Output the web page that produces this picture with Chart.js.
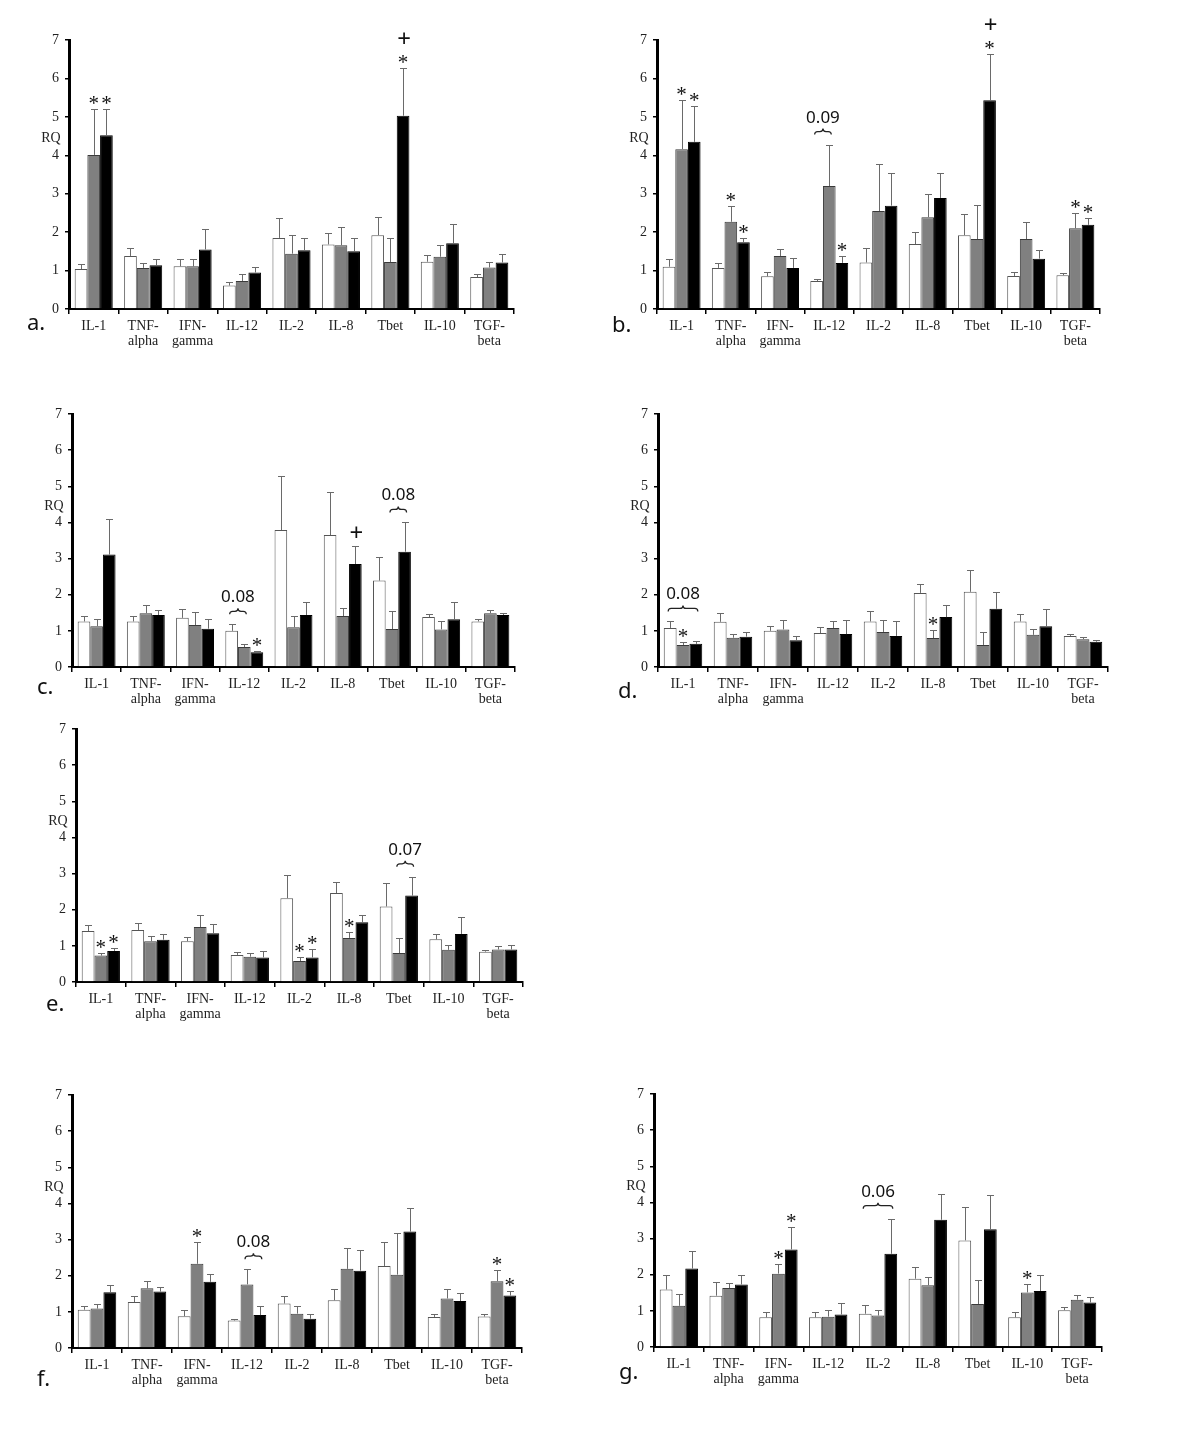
<!DOCTYPE html>
<html>
<head>
<meta charset="utf-8">
<script src="https://cdn.jsdelivr.net/npm/chart.js@4.4.0/dist/chart.umd.min.js"></script>
<style>
  body { margin: 0; background: #fff; width: 1200px; height: 1436px; position: relative; overflow: hidden; }
  canvas { position: absolute; }
  .tag { position: absolute; font-family: "Noto Sans", sans-serif; font-size: 22px; line-height: 20px; color: #111; }
</style>
</head>
<body>
<script>
// categories (x axis)
const cats = [["IL-1"], ["TNF-", "alpha"], ["IFN-", "gamma"], ["IL-12"], ["IL-2"], ["IL-8"], ["Tbet"], ["IL-10"], ["TGF-", "beta"]];

// panel a
const aWhite   = [1.04, 1.38, 1.11, 0.61, 1.85, 1.68, 1.92, 1.23, 0.83];
const aWhiteHi = [1.17, 1.59, 1.30, 0.69, 2.38, 1.99, 2.40, 1.40, 0.91];
const aGray    = [4.01, 1.07, 1.11, 0.73, 1.44, 1.66, 1.22, 1.36, 1.08];
const aGrayHi  = [5.20, 1.20, 1.30, 0.91, 1.92, 2.13, 1.85, 1.66, 1.23];
const aBlack   = [4.52, 1.14, 1.55, 0.95, 1.53, 1.50, 5.03, 1.71, 1.21];
const aBlackHi = [5.20, 1.30, 2.08, 1.09, 1.85, 1.85, 6.27, 2.21, 1.43];
const aMarks   = [[0, 1, "*"], [0, 2, "*"], [6, 2, "*"], [6, 2, "+"]];
const aBraces  = [];

// panel b
const bWhite   = [1.10, 1.07, 0.85, 0.73, 1.21, 1.69, 1.92, 0.86, 0.88];
const bWhiteHi = [1.30, 1.20, 0.95, 0.78, 1.60, 2.00, 2.46, 0.95, 0.93];
const bGray    = [4.16, 2.27, 1.38, 3.20, 2.55, 2.39, 1.82, 1.82, 2.10];
const bGrayHi  = [5.43, 2.67, 1.56, 4.28, 3.78, 3.00, 2.70, 2.27, 2.49];
const bBlack   = [4.35, 1.74, 1.07, 1.20, 2.69, 2.89, 5.43, 1.31, 2.19];
const bBlackHi = [5.29, 1.84, 1.33, 1.37, 3.54, 3.55, 6.63, 1.53, 2.36];
const bMarks   = [[0, 1, "*"], [0, 2, "*"], [1, 1, "*"], [1, 2, "*"], [3, 2, "*"], [6, 2, "*"], [6, 2, "+"], [8, 1, "*"], [8, 2, "*"]];
const bBraces  = [[3, 0, 1, "0.09"]];

// panel c
const cWhite   = [1.26, 1.26, 1.36, 1.00, 3.79, 3.65, 2.39, 1.38, 1.26];
const cWhiteHi = [1.42, 1.42, 1.60, 1.18, 5.29, 4.84, 3.03, 1.47, 1.33];
const cGray    = [1.13, 1.49, 1.16, 0.55, 1.10, 1.41, 1.05, 1.04, 1.49];
const cGrayHi  = [1.34, 1.71, 1.53, 0.64, 1.40, 1.62, 1.55, 1.28, 1.58];
const cBlack   = [3.11, 1.44, 1.06, 0.41, 1.44, 2.85, 3.19, 1.32, 1.44];
const cBlackHi = [4.10, 1.58, 1.34, 0.45, 1.79, 3.35, 4.00, 1.79, 1.49];
const cMarks   = [[3, 2, "*"], [5, 2, "+"]];
const cBraces  = [[3, 0, 1, "0.08"], [6, 1, 2, "0.08"]];

// panel d
const dWhite   = [1.08, 1.25, 1.00, 0.94, 1.26, 2.05, 2.08, 1.26, 0.86];
const dWhiteHi = [1.26, 1.49, 1.13, 1.11, 1.55, 2.29, 2.68, 1.47, 0.90];
const dGray    = [0.61, 0.81, 1.04, 1.08, 0.97, 0.80, 0.61, 0.89, 0.77];
const dGrayHi  = [0.69, 0.91, 1.30, 1.26, 1.30, 1.02, 0.97, 1.04, 0.83];
const dBlack   = [0.64, 0.84, 0.74, 0.91, 0.86, 1.38, 1.61, 1.13, 0.70];
const dBlackHi = [0.72, 0.96, 0.86, 1.30, 1.26, 1.72, 2.08, 1.61, 0.74];
const dMarks   = [[0, 1, "*"], [5, 1, "*"]];
const dBraces  = [[0, 0, 2, "0.08"]];

// panel e
const eWhite   = [1.41, 1.44, 1.13, 0.75, 2.32, 2.46, 2.09, 1.18, 0.84];
const eWhiteHi = [1.57, 1.62, 1.24, 0.83, 2.95, 2.77, 2.73, 1.33, 0.89];
const eGray    = [0.73, 1.13, 1.52, 0.70, 0.58, 1.22, 0.80, 0.89, 0.90];
const eGrayHi  = [0.79, 1.27, 1.85, 0.81, 0.69, 1.38, 1.22, 1.02, 1.00];
const eBlack   = [0.86, 1.17, 1.35, 0.68, 0.68, 1.65, 2.39, 1.33, 0.90];
const eBlackHi = [0.93, 1.34, 1.60, 0.86, 0.90, 1.86, 2.91, 1.80, 1.02];
const eMarks   = [[0, 1, "*"], [0, 2, "*"], [4, 1, "*"], [4, 2, "*"], [5, 1, "*"]];
const eBraces  = [[6, 1, 2, "0.07"]];

// panel f
const fWhite   = [1.06, 1.27, 0.88, 0.76, 1.23, 1.32, 2.27, 0.86, 0.87];
const fWhiteHi = [1.16, 1.45, 1.05, 0.79, 1.45, 1.63, 2.92, 0.93, 0.94];
const fGray    = [1.09, 1.65, 2.33, 1.76, 0.95, 2.19, 2.03, 1.37, 1.85];
const fGrayHi  = [1.21, 1.85, 2.93, 2.18, 1.16, 2.77, 3.18, 1.62, 2.15];
const fBlack   = [1.54, 1.56, 1.83, 0.91, 0.81, 2.14, 3.22, 1.30, 1.45];
const fBlackHi = [1.75, 1.68, 2.04, 1.15, 0.94, 2.70, 3.87, 1.51, 1.57];
const fMarks   = [[2, 1, "*"], [8, 1, "*"], [8, 2, "*"]];
const fBraces  = [[3, 1, 2, "0.08"]];

// panel g
const gWhite   = [1.59, 1.42, 0.82, 0.82, 0.92, 1.89, 2.95, 0.82, 1.02];
const gWhiteHi = [1.98, 1.79, 0.98, 0.98, 1.16, 2.22, 3.88, 0.98, 1.12];
const gGray    = [1.14, 1.63, 2.03, 0.84, 0.87, 1.71, 1.19, 1.51, 1.31];
const gGrayHi  = [1.47, 1.78, 2.30, 1.02, 1.01, 1.94, 1.85, 1.73, 1.45];
const gBlack   = [2.17, 1.73, 2.70, 0.90, 2.58, 3.52, 3.26, 1.55, 1.23];
const gBlackHi = [2.66, 2.00, 3.31, 1.23, 3.55, 4.22, 4.20, 2.00, 1.37];
const gMarks   = [[2, 1, "*"], [2, 2, "*"], [7, 1, "*"]];
const gBraces  = [[4, 0, 2, "0.06"]];

const serif = "'Liberation Serif', 'Times New Roman', serif";
const sans = "'Noto Sans', 'Open Sans', sans-serif";

// error bars, stars/plus, p-value braces and the RQ label
function decor(hiSets, marks, braces) {
    return {
        id: "decor",
        afterDatasetsDraw(chart) {
            const ctx = chart.ctx;
            const y = chart.scales.y;
            const area = chart.chartArea;
            const bar = (s, i) => chart.getDatasetMeta(s).data[i];
            const top = (s, i) => y.getPixelForValue(hiSets[s][i]);

            ctx.save();
            // error bars (upper only)
            ctx.strokeStyle = "#6a6a6a";
            ctx.lineWidth = 1;
            hiSets.forEach((arr, s) => {
                arr.forEach((v, i) => {
                    const b = bar(s, i);
                    const x = Math.round(b.x) + 0.5;
                    const yt = Math.round(top(s, i)) + 0.5;
                    ctx.beginPath();
                    ctx.moveTo(x, b.y);
                    ctx.lineTo(x, yt);
                    ctx.moveTo(x - 3.5, yt);
                    ctx.lineTo(x + 3.5, yt);
                    ctx.stroke();
                });
            });

            // significance marks
            ctx.fillStyle = "#111";
            ctx.textAlign = "center";
            ctx.textBaseline = "alphabetic";
            const seen = {};
            marks.forEach(([i, s, t]) => {
                const key = i + "-" + s;
                const n = seen[key] || 0;
                seen[key] = n + 1;
                const x = bar(s, i).x;
                const yt = top(s, i);
                if (t === "*") {
                    ctx.font = "21px " + serif;
                    ctx.fillText("*", x, yt + 1 - n * 17);
                } else {
                    ctx.font = "24px " + sans;
                    ctx.fillText("+", x + 1, yt - 5 - n * 16);
                }
            });

            // p-value braces
            ctx.strokeStyle = "#222";
            ctx.lineWidth = 1.2;
            braces.forEach(([i, s1, s2, txt]) => {
                let yb = Infinity;
                for (let s = s1; s <= s2; s++) yb = Math.min(yb, top(s, i));
                yb -= 13;
                const x1 = bar(s1, i).x - 2, x2 = bar(s2, i).x + 2;
                const xm = (x1 + x2) / 2;
                ctx.beginPath();
                ctx.moveTo(x1, yb + 3);
                ctx.quadraticCurveTo(x1, yb, x1 + 3, yb);
                ctx.lineTo(xm - 3, yb);
                ctx.quadraticCurveTo(xm, yb, xm, yb - 3);
                ctx.quadraticCurveTo(xm, yb, xm + 3, yb);
                ctx.lineTo(x2 - 3, yb);
                ctx.quadraticCurveTo(x2, yb, x2, yb + 3);
                ctx.stroke();
                ctx.font = "17px " + sans;
                ctx.fillText(txt, xm, yb - 9);
            });

            // RQ axis label
            ctx.font = "14px " + serif;
            ctx.fillStyle = "#222";
            ctx.textBaseline = "middle";
            ctx.fillText("RQ", area.left - 18, y.getPixelForValue(4.45));
            ctx.restore();
        }
    };
}

function panel(geo, sets, marks, braces) {
    const padT = 32, padR = 12, yw = 40, xh = 46;
    const cv = document.createElement("canvas");
    const w = geo.right - geo.x0 + yw + padR;
    const h = geo.bottom - geo.top + padT + xh;
    cv.width = w;
    cv.height = h;
    cv.style.left = (geo.x0 - yw) + "px";
    cv.style.top = (geo.top - padT) + "px";
    cv.style.width = w + "px";
    cv.style.height = h + "px";
    document.body.appendChild(cv);

    const tag = document.createElement("div");
    tag.className = "tag";
    tag.textContent = geo.tag;
    tag.style.left = geo.tx + "px";
    tag.style.top = geo.ty + "px";
    document.body.appendChild(tag);

    new Chart(cv, {
        type: "bar",
        data: {
            labels: cats,
            datasets: [
                { data: sets[0], backgroundColor: "#fff", borderColor: "#555", borderWidth: 1 },
                { data: sets[2], backgroundColor: "#808080", borderColor: "#3a3a3a", borderWidth: 1 },
                { data: sets[4], backgroundColor: "#000", borderColor: "#000", borderWidth: 1 }
            ]
        },
        options: {
            responsive: false,
            animation: false,
            devicePixelRatio: 1,
            layout: { padding: { top: padT, right: padR, left: 0, bottom: 0 } },
            plugins: { legend: { display: false }, tooltip: { enabled: false } },
            datasets: { bar: { categoryPercentage: 0.77, barPercentage: 1 } },
            scales: {
                x: {
                    border: { color: "#000", width: 2 },
                    grid: { drawOnChartArea: false, offset: true, tickLength: 5, color: "#000", lineWidth: 1.5 },
                    ticks: { color: "#222", font: { family: serif, size: 14, lineHeight: 1.12 }, padding: 4, maxRotation: 0, autoSkip: false },
                    afterFit(s) { s.height = xh; }
                },
                y: {
                    min: 0, max: 7,
                    border: { color: "#000", width: 3 },
                    grid: { drawOnChartArea: false, tickLength: 4, color: "#000", lineWidth: 1.5 },
                    ticks: { stepSize: 1, color: "#222", font: { family: serif, size: 14 }, padding: 6 },
                    afterFit(s) { s.width = yw; }
                }
            }
        },
        plugins: [decor([sets[1], sets[3], sets[5]], marks, braces)]
    });
}

panel({ x0: 69, right: 514, top: 40, bottom: 309, tag: "a.", tx: 27, ty: 311 },
    [aWhite, aWhiteHi, aGray, aGrayHi, aBlack, aBlackHi], aMarks, aBraces);
panel({ x0: 657, right: 1100, top: 40, bottom: 309, tag: "b.", tx: 612, ty: 313 },
    [bWhite, bWhiteHi, bGray, bGrayHi, bBlack, bBlackHi], bMarks, bBraces);
panel({ x0: 72, right: 515, top: 414, bottom: 667, tag: "c.", tx: 37, ty: 675 },
    [cWhite, cWhiteHi, cGray, cGrayHi, cBlack, cBlackHi], cMarks, cBraces);
panel({ x0: 658, right: 1108, top: 414, bottom: 667, tag: "d.", tx: 618, ty: 679 },
    [dWhite, dWhiteHi, dGray, dGrayHi, dBlack, dBlackHi], dMarks, dBraces);
panel({ x0: 76, right: 523, top: 729, bottom: 982, tag: "e.", tx: 46, ty: 992 },
    [eWhite, eWhiteHi, eGray, eGrayHi, eBlack, eBlackHi], eMarks, eBraces);
panel({ x0: 72, right: 522, top: 1095, bottom: 1348, tag: "f.", tx: 37, ty: 1367 },
    [fWhite, fWhiteHi, fGray, fGrayHi, fBlack, fBlackHi], fMarks, fBraces);
panel({ x0: 654, right: 1102, top: 1094, bottom: 1347, tag: "g.", tx: 619, ty: 1360 },
    [gWhite, gWhiteHi, gGray, gGrayHi, gBlack, gBlackHi], gMarks, gBraces);
</script>
</body>
</html>
